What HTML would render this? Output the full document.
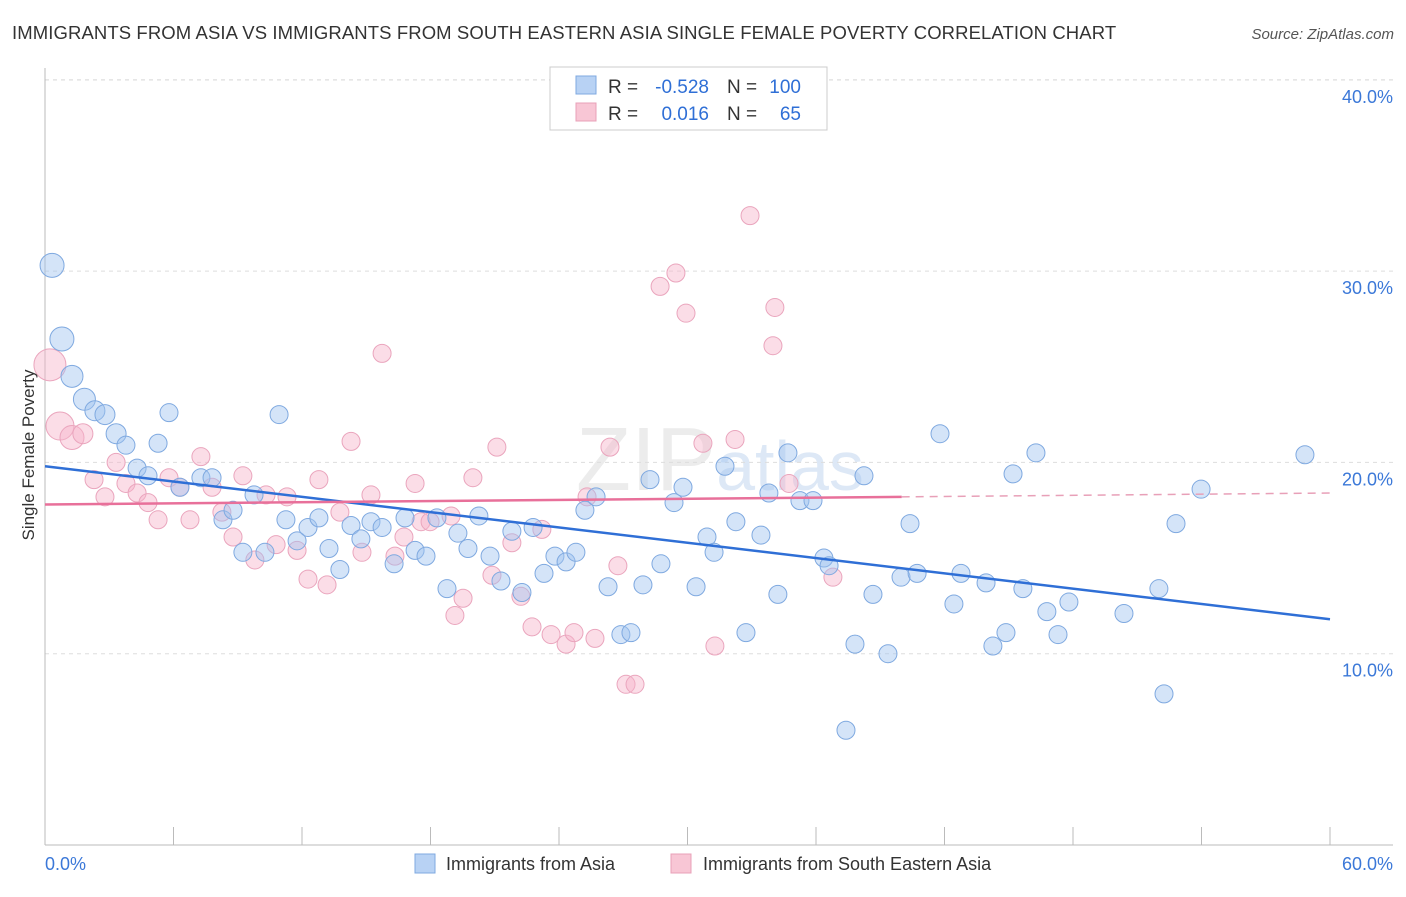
<!DOCTYPE html>
<html><head><meta charset="utf-8"><style>
body{margin:0;background:#fff;font-family:"Liberation Sans",sans-serif;}
svg text{font-family:"Liberation Sans",sans-serif;}
</style></head><body>
<svg id="chart" width="1406" height="892" viewBox="0 0 1406 892">
<text x="12" y="39" font-size="18.5" fill="#333" letter-spacing="0.1">IMMIGRANTS FROM ASIA VS IMMIGRANTS FROM SOUTH EASTERN ASIA SINGLE FEMALE POVERTY CORRELATION CHART</text>
<text x="1394" y="39" font-size="15" fill="#555" font-style="italic" text-anchor="end">Source: ZipAtlas.com</text>
<text x="720" y="490" font-size="90" fill="#ececec" text-anchor="middle" font-family="Liberation Serif">ZIP<tspan fill="#dde8f6" font-family="Liberation Sans" font-size="70">atlas</tspan></text>
<g id="grid"></g>
<g id="axes"></g>
<g id="points"></g>
<g id="trends"></g>
<text transform="translate(34,455) rotate(-90)" font-size="17" fill="#333" text-anchor="middle">Single Female Poverty</text>
<g>
<rect x="550" y="67" width="277" height="63" fill="#fff" stroke="#ccc"/>
<rect x="576" y="76" width="20" height="18" fill="#b8d2f4" stroke="#7fa9e0"/>
<rect x="576" y="103" width="20" height="18" fill="#f8c6d5" stroke="#e8a0b8"/>
<text x="608" y="93" font-size="19" fill="#333">R =</text>
<text x="709" y="93" font-size="19" fill="#2f6fd6" text-anchor="end">-0.528</text>
<text x="727" y="93" font-size="19" fill="#333">N =</text>
<text x="801" y="93" font-size="19" fill="#2f6fd6" text-anchor="end">100</text>
<text x="608" y="120" font-size="19" fill="#333">R =</text>
<text x="709" y="120" font-size="19" fill="#2f6fd6" text-anchor="end">0.016</text>
<text x="727" y="120" font-size="19" fill="#333">N =</text>
<text x="801" y="120" font-size="19" fill="#2f6fd6" text-anchor="end">65</text>
</g>
<g>
<rect x="415" y="854" width="20" height="19" fill="#b8d2f4" stroke="#7fa9e0"/>
<text x="446" y="870" font-size="18" fill="#333">Immigrants from Asia</text>
<rect x="671" y="854" width="20" height="19" fill="#f8c6d5" stroke="#e8a0b8"/>
<text x="703" y="870" font-size="18" fill="#333">Immigrants from South Eastern Asia</text>
</g>
</svg>
<script>
const blueX=[0.33,0.79,1.26,1.84,2.33,2.8,3.32,3.78,4.3,4.81,5.28,5.79,6.3,7.28,7.8,8.31,8.78,9.24,9.76,10.27,10.93,11.25,11.77,12.28,12.79,13.26,13.77,14.29,14.75,15.22,15.74,16.3,16.81,17.28,17.79,18.3,18.77,19.28,19.75,20.26,20.78,21.29,21.8,22.27,22.79,23.3,23.81,24.33,24.79,25.21,25.73,26.29,26.89,27.36,27.92,28.25,28.76,29.37,29.79,30.4,30.91,31.24,31.75,32.26,32.73,33.43,33.8,34.22,34.69,35.25,35.86,36.37,36.61,37.82,38.24,38.66,39.36,39.97,40.39,40.72,41.79,42.44,42.77,43.94,44.26,44.87,45.2,45.66,46.27,46.78,47.3,47.81,50.38,52.01,52.25,52.81,53.98,58.83,37.4];
const blueY=[30.3,26.45,24.5,23.3,22.7,22.5,21.5,20.9,19.7,19.3,21.0,22.6,18.7,19.2,19.2,17.0,17.5,15.3,18.3,15.3,22.5,17.0,15.9,16.6,17.1,15.5,14.4,16.7,16.0,16.9,16.6,14.7,17.1,15.4,15.1,17.1,13.4,16.3,15.5,17.2,15.1,13.8,16.4,13.2,16.6,14.2,15.1,14.8,15.3,17.5,18.2,13.5,11.0,11.1,13.6,19.1,14.7,17.9,18.7,13.5,16.1,15.3,19.8,16.9,11.1,16.2,18.4,13.1,20.5,18.0,18.0,15.0,14.6,10.5,19.3,13.1,10.0,14.0,16.8,14.2,21.5,12.6,14.2,13.7,10.4,11.1,19.4,13.4,20.5,12.2,11.0,12.7,12.1,13.4,7.9,16.8,18.6,20.4,6.0];
const blueR=[12,12,11,11,10,10,10];
const pinkX=[0.23,0.7,1.26,1.77,2.29,2.8,3.32,3.78,4.3,4.81,5.28,5.79,6.3,6.77,7.28,7.8,8.26,8.78,9.24,9.8,10.32,10.79,11.3,11.77,12.28,12.79,13.17,13.77,14.29,14.8,15.22,15.74,16.34,16.76,17.28,17.56,17.98,18.96,19.14,19.52,19.98,20.87,21.1,21.8,22.22,22.74,23.2,23.63,24.33,24.7,25.31,25.68,26.38,26.75,27.13,27.55,28.72,29.46,29.93,30.72,31.28,32.22,32.92,33.99,34.08,34.74,36.79];
const pinkY=[25.1,21.9,21.3,21.5,19.1,18.2,20.0,18.9,18.4,17.9,17.0,19.2,18.7,17.0,20.3,18.7,17.4,16.1,19.3,14.9,18.3,15.7,18.2,15.4,13.9,19.1,13.6,17.4,21.1,15.3,18.3,25.7,15.1,16.1,18.9,16.9,16.9,17.2,12.0,12.9,19.2,14.1,20.8,15.8,13.0,11.4,16.5,11.0,10.5,11.1,18.2,10.8,20.8,14.6,8.4,8.4,29.2,29.9,27.8,21.0,10.4,21.2,32.9,26.1,28.1,18.9,14.0];
const pinkR=[16,14,12,10];
const yTicks=[10,20,30,40];
const yTickLabels=["10.0%","20.0%","30.0%","40.0%"];
const xTicks=[0,6,12,18,24,30,36,42,48,54,60];
const blueTrend=[19.8,11.8];
const pinkTrend=[17.8,18.4];
const pinkSolidEnd=40;
const NS="http://www.w3.org/2000/svg";
const X=v=>45+v*(1285/60);
const Y=v=>845-v*19.13;
function mk(tag,attrs,parent){const e=document.createElementNS(NS,tag);for(const k in attrs)e.setAttribute(k,attrs[k]);parent.appendChild(e);return e;}
const gridG=document.getElementById('grid'),axesG=document.getElementById('axes'),ptsG=document.getElementById('points'),trG=document.getElementById('trends');
yTicks.forEach((t,i)=>{
 const l=mk('line',{x1:45,x2:1393,y1:Y(t),y2:Y(t),stroke:'#ddd','stroke-dasharray':'4,4'},gridG);
 
 
 const tx=mk('text',{x:1393,y:Y(t)+23,'font-size':18,fill:'#3b78d8','text-anchor':'end'},gridG);
 tx.textContent=yTickLabels[i];
 
 
});
const topGrid=mk('line',{x1:45,x2:1393,y1:80,y2:80,stroke:'#ddd','stroke-dasharray':'4,4'},gridG);


const ya=mk('line',{x1:45,x2:45,y1:68,y2:845,stroke:'#bbb'},axesG);


const xa=mk('line',{x1:45,x2:1393,y1:845,y2:845,stroke:'#bbb'},axesG);


xTicks.forEach(t=>{
 const l=mk('line',{x1:X(t),x2:X(t),y1:827,y2:845,stroke:'#bbb'},axesG);
 
 
});
const xl0=mk('text',{x:45,y:870,'font-size':18,fill:'#3b78d8'},axesG);xl0.textContent="0.0%";


const xl1=mk('text',{x:1393,y:870,'font-size':18,fill:'#3b78d8','text-anchor':'end'},axesG);xl1.textContent="60.0%";


pinkX.forEach((v,i)=>{
 const c=mk('circle',{cx:X(v),cy:Y(pinkY[i]),r:pinkR[i]||9,fill:'rgba(246,180,202,0.45)',stroke:'#eaa5bd','stroke-width':1},ptsG);
 
 
});
blueX.forEach((v,i)=>{
 const c=mk('circle',{cx:X(v),cy:Y(blueY[i]),r:blueR[i]||9,fill:'rgba(160,196,240,0.45)',stroke:'#7fa9e0','stroke-width':1},ptsG);
 
 
});
const bl=mk('line',{x1:X(0),y1:Y(blueTrend[0]),x2:X(60),y2:Y(blueTrend[1]),stroke:'#2f6fd6','stroke-width':2.5},trG);


const pm=pinkTrend[0]+(pinkTrend[1]-pinkTrend[0])*pinkSolidEnd/60;
const pl=mk('line',{x1:X(0),y1:Y(pinkTrend[0]),x2:X(pinkSolidEnd),y2:Y(pm),stroke:'#e8709a','stroke-width':2.5},trG);


const pd=mk('line',{x1:X(pinkSolidEnd),y1:Y(pm),x2:X(60),y2:Y(pinkTrend[1]),stroke:'#e8a0b8','stroke-width':1.5,'stroke-dasharray':'8,6'},trG);


</script>
</body></html>
